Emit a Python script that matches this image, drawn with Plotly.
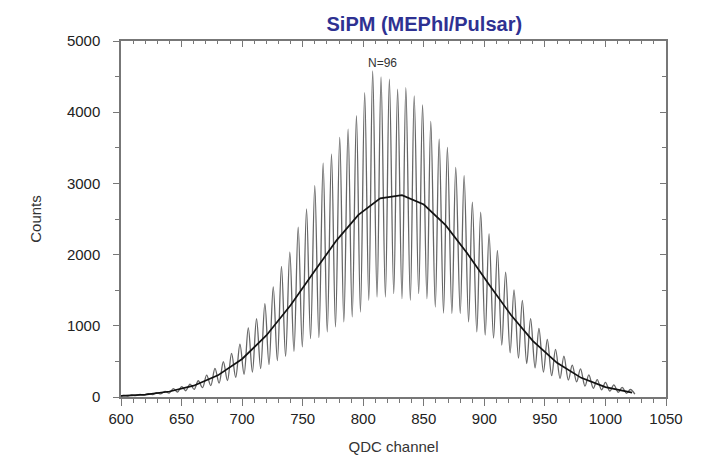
import plotly.graph_objects as go

# Peak positions (QDC channel) and peak counts of the oscillating spectrum
peak_ch = [602.0, 608.9, 615.7, 622.6, 629.5, 636.3, 643.2, 650.1, 657.0, 663.8,
           670.7, 677.6, 684.5, 691.3, 698.2, 705.1, 711.9, 718.8, 725.7, 732.5,
           739.4, 746.3, 753.2, 760.0, 766.9, 773.8, 780.6, 787.5, 794.4, 801.2,
           807.8, 814.7, 821.6, 828.4, 835.2, 842.1, 849.0, 855.8, 862.7, 869.5,
           876.4, 883.3, 890.1, 897.0, 903.9, 910.8, 917.6, 924.5, 931.4, 938.2,
           945.1, 952.0, 958.8, 965.7, 972.6, 979.4, 986.3, 993.2, 1000.0, 1006.9,
           1013.8, 1020.6]
peak_counts = [22, 28, 36, 46, 60, 80, 118, 145, 182, 228,
               308, 401, 495, 612, 742, 970, 1102, 1312, 1545, 1835,
               2035, 2385, 2642, 2969, 3285, 3412, 3646, 3763, 3950, 4276,
               4580, 4496, 4463, 4323, 4346, 4230, 4104, 3870, 3623, 3506,
               3226, 3109, 2735, 2595, 2292, 2059, 1755, 1505, 1358, 1102,
               962, 808, 668, 574, 448, 395, 310, 245, 205, 170,
               135, 105]

# Valley positions and counts (between peaks)
valley_ch = [598.6, 605.5, 612.3, 619.2, 626.1, 632.9, 639.8, 646.7, 653.5, 660.4,
             667.3, 674.1, 681.0, 687.9, 694.7, 701.6, 708.5, 715.3, 722.2, 729.1,
             735.9, 742.8, 749.7, 756.5, 763.4, 770.3, 777.1, 784.0, 790.9, 797.7,
             804.6, 811.4, 818.3, 825.2, 832.0, 838.9, 845.8, 852.6, 859.5, 866.3,
             873.2, 880.1, 887.0, 893.8, 900.7, 907.6, 914.4, 921.3, 928.2, 935.0,
             941.9, 948.8, 955.6, 962.5, 969.4, 976.2, 983.1, 990.0, 996.8, 1003.7,
             1010.6, 1017.4, 1024.3]
valley_counts = [10, 14, 20, 26, 34, 44, 56, 70, 88, 108,
                 132, 160, 195, 232, 275, 318, 350, 400, 455, 510,
                 570, 640, 704, 821, 835, 914, 984, 1054, 1124, 1194,
                 1358, 1404, 1404, 1452, 1382, 1358, 1452, 1382, 1264, 1180,
                 1172, 1172, 1054, 914, 868, 826, 728, 620, 545, 470,
                 410, 350, 300, 260, 238, 214, 154, 122, 100, 82,
                 66, 52, 40]

# Smooth envelope (mean) curve
env_ch = [600, 620, 640, 660, 680, 700, 720, 740, 760, 778, 796, 814, 832,
          850, 868, 886, 904, 922, 940, 960, 980, 1000, 1022]
env_counts = [16, 34, 77, 159, 304, 534, 864, 1289, 1772, 2200, 2558, 2790, 2835,
              2703, 2413, 2015, 1575, 1152, 789, 480, 269, 139, 61]

x_ticks = [600, 650, 700, 750, 800, 850, 900, 950, 1000, 1050]
y_ticks = [0, 1000, 2000, 3000, 4000, 5000]

# interleave valleys and peaks into one spectrum line
spec_x, spec_y = [], []
for i in range(len(valley_ch)):
    spec_x.append(valley_ch[i]); spec_y.append(valley_counts[i])
    if i < len(peak_ch):
        spec_x.append(peak_ch[i]); spec_y.append(peak_counts[i])

fig = go.Figure()
fig.add_trace(go.Scatter(x=spec_x, y=spec_y, mode="lines",
                         line=dict(color="#666666", width=1.3, shape="spline", smoothing=1.0),
                         hoverinfo="skip", showlegend=False))
fig.add_trace(go.Scatter(x=env_ch, y=env_counts, mode="lines",
                         line=dict(color="#111111", width=1.7),
                         showlegend=False))
# invisible trace for mirrored (top/right) axes
fig.add_trace(go.Scatter(x=[600], y=[0], xaxis="x2", yaxis="y2", mode="markers",
                         marker=dict(opacity=0), showlegend=False, hoverinfo="skip"))

fig.add_annotation(x=816, y=4690, text="N=96", showarrow=False,
                   font=dict(family="Liberation Sans, Arial", size=12, color="#333333"))

axis_font = dict(family="Liberation Sans, Arial", size=15, color="#222222")
title_font = dict(family="Liberation Sans, Arial", size=15, color="#333333")
fig.update_layout(
    width=702, height=454,
    margin=dict(l=113, r=44, t=33, b=65, autoexpand=False),
    paper_bgcolor="white", plot_bgcolor="white",
    title=dict(text="<b>SiPM (MEPhI/Pulsar)</b>", xref="container", x=0.593, xanchor="center",
               yref="container", y=0.965, yanchor="middle",
               font=dict(family="Liberation Sans, Arial", size=20, color="#2E3192")),
    xaxis=dict(range=[600, 1050], tickvals=x_ticks, ticks="outside", ticklen=7,
               tickcolor="#777777", tickwidth=1, showgrid=False, zeroline=False,
               showline=True, linecolor="#777777", linewidth=1.5,
               tickfont=axis_font, automargin=False,
               minor=dict(dtick=10, ticks="outside", ticklen=4, tickcolor="#777777", tickwidth=1),
               title=dict(text="QDC channel", font=title_font, standoff=16)),
    yaxis=dict(range=[0, 5000], tickvals=y_ticks, ticks="outside", ticklen=6,
               tickcolor="#777777", tickwidth=1, showgrid=False, zeroline=False,
               showline=True, linecolor="#777777", linewidth=1.5,
               tickfont=axis_font, ticklabelstandoff=10, automargin=False,
               minor=dict(dtick=500, ticks="outside", ticklen=4, tickcolor="#777777", tickwidth=1),
               title=dict(text="Counts", font=title_font, standoff=22)),
    xaxis2=dict(range=[600, 1050], overlaying="x", side="top", tickvals=x_ticks,
                ticks="inside", ticklen=6, tickcolor="#777777", showticklabels=False,
                showgrid=False, zeroline=False, showline=True, linecolor="#777777", linewidth=1.5,
                minor=dict(dtick=10, ticks="inside", ticklen=3, tickcolor="#777777")),
    yaxis2=dict(range=[0, 5000], overlaying="y", side="right", tickvals=y_ticks,
                ticks="inside", ticklen=6, tickcolor="#777777", showticklabels=False,
                showgrid=False, zeroline=False, showline=True, linecolor="#777777", linewidth=1.5,
                minor=dict(dtick=500, ticks="inside", ticklen=4, tickcolor="#777777")),
)

fig.write_html("out.html")
